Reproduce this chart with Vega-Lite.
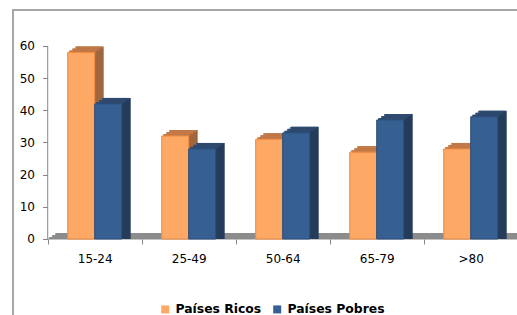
{
  "$schema": "https://vega.github.io/schema/vega-lite/v6.json",
  "width": 506,
  "height": 307,
  "autosize": {"type": "none"},
  "padding": {"left": 13, "top": 10, "right": 0, "bottom": 0},
  "background": "#ffffff",
  "data": {
    "values": [
      {"grupo": "15-24", "serie": "Países Ricos", "valor": 58},
      {"grupo": "15-24", "serie": "Países Pobres", "valor": 42},
      {"grupo": "25-49", "serie": "Países Ricos", "valor": 32},
      {"grupo": "25-49", "serie": "Países Pobres", "valor": 28},
      {"grupo": "50-64", "serie": "Países Ricos", "valor": 31},
      {"grupo": "50-64", "serie": "Países Pobres", "valor": 33},
      {"grupo": "65-79", "serie": "Países Ricos", "valor": 27},
      {"grupo": "65-79", "serie": "Países Pobres", "valor": 37},
      {"grupo": ">80", "serie": "Países Ricos", "valor": 28},
      {"grupo": ">80", "serie": "Países Pobres", "valor": 38}
    ]
  },
  "layer": [
    {
      "data": {"values": [{"k": 1}]},
      "mark": {"type": "rule", "color": "#8c8c8c", "strokeWidth": 2, "xOffset": 1.5, "x2Offset": 1.5, "yOffset": -1},
      "encoding": {
        "x": {"datum": "15-24", "type": "nominal", "bandPosition": 0},
        "x2": {"datum": ">80", "bandPosition": 1},
        "y": {"datum": 0, "type": "quantitative"}
      }
    },
    {
      "data": {"values": [{"k": 1}]},
      "mark": {"type": "rule", "color": "#8c8c8c", "strokeWidth": 2, "xOffset": 4.5, "x2Offset": 4.5, "yOffset": -3},
      "encoding": {
        "x": {"datum": "15-24", "type": "nominal", "bandPosition": 0},
        "x2": {"datum": ">80", "bandPosition": 1},
        "y": {"datum": 0, "type": "quantitative"}
      }
    },
    {
      "data": {"values": [{"k": 1}]},
      "mark": {"type": "rule", "color": "#8c8c8c", "strokeWidth": 2, "xOffset": 7.5, "x2Offset": 7.5, "yOffset": -5},
      "encoding": {
        "x": {"datum": "15-24", "type": "nominal", "bandPosition": 0},
        "x2": {"datum": ">80", "bandPosition": 1},
        "y": {"datum": 0, "type": "quantitative"}
      }
    },
    {
      "data": {"values": [{"k": 1}]},
      "mark": {"type": "rule", "color": "#868686", "strokeWidth": 1},
      "encoding": {
        "x": {"datum": "15-24", "type": "nominal", "bandPosition": 0},
        "x2": {"datum": ">80", "bandPosition": 1},
        "y": {"datum": 0, "type": "quantitative"}
      }
    },
    {
      "data": {"values": [{"k": 1}]},
      "mark": {"type": "rule", "color": "#868686", "strokeWidth": 1},
      "encoding": {
        "x": {"datum": "15-24", "type": "nominal", "bandPosition": 0},
        "y": {"datum": 0, "type": "quantitative"},
        "y2": {"datum": 60}
      }
    },
    {
      "transform": [{"filter": "datum.serie === 'Países Ricos'"}],
      "mark": {"type": "bar", "width": 27, "xOffset": -10.5, "yOffset": -2, "y2Offset": -2, "color": "#a0673f"},
      "encoding": {
        "x": {"field": "grupo", "type": "nominal", "sort": null},
        "y": {"field": "valor", "type": "quantitative", "stack": null}
      }
    },
    {
      "transform": [{"filter": "datum.serie === 'Países Ricos'"}],
      "mark": {"type": "bar", "width": 27, "xOffset": -7.5, "yOffset": -4, "y2Offset": -4, "color": "#a0673f"},
      "encoding": {
        "x": {"field": "grupo", "type": "nominal", "sort": null},
        "y": {"field": "valor", "type": "quantitative", "stack": null}
      }
    },
    {
      "transform": [{"filter": "datum.serie === 'Países Ricos'"}],
      "mark": {"type": "bar", "width": 27, "xOffset": -4.5, "yOffset": -6, "y2Offset": -6, "color": "#a0673f"},
      "encoding": {
        "x": {"field": "grupo", "type": "nominal", "sort": null},
        "y": {"field": "valor", "type": "quantitative", "stack": null}
      }
    },
    {
      "transform": [{"filter": "datum.serie === 'Países Ricos'"}],
      "mark": {"type": "bar", "width": 27, "xOffset": -12, "yOffset": -2, "y2Offset": 0, "color": "#c47a48"},
      "encoding": {
        "x": {"field": "grupo", "type": "nominal", "sort": null},
        "y": {"field": "valor", "type": "quantitative", "stack": null},
        "y2": {"field": "valor"}
      }
    },
    {
      "transform": [{"filter": "datum.serie === 'Países Ricos'"}],
      "mark": {"type": "bar", "width": 27, "xOffset": -9, "yOffset": -4, "y2Offset": -2, "color": "#c47a48"},
      "encoding": {
        "x": {"field": "grupo", "type": "nominal", "sort": null},
        "y": {"field": "valor", "type": "quantitative", "stack": null},
        "y2": {"field": "valor"}
      }
    },
    {
      "transform": [{"filter": "datum.serie === 'Países Ricos'"}],
      "mark": {"type": "bar", "width": 27, "xOffset": -6, "yOffset": -6, "y2Offset": -4, "color": "#c47a48"},
      "encoding": {
        "x": {"field": "grupo", "type": "nominal", "sort": null},
        "y": {"field": "valor", "type": "quantitative", "stack": null},
        "y2": {"field": "valor"}
      }
    },
    {
      "transform": [{"filter": "datum.serie === 'Países Ricos'"}],
      "mark": {"type": "bar", "width": 27, "xOffset": -13.5, "stroke": "#f08a3c", "strokeWidth": 1},
      "encoding": {
        "x": {
          "field": "grupo", "type": "nominal", "sort": null, "title": null,
          "scale": {"domain": ["15-24", "25-49", "50-64", "65-79", ">80"], "paddingInner": 0, "paddingOuter": 0.1915, "align": 0.964},
          "axis": {"orient": "bottom", "offset": -78, "domain": false, "tickBand": "extent", "tickSize": 5, "tickColor": "#868686", "labelPadding": 9, "labelAngle": 0, "labelAlign": "center", "labelBaseline": "top"}
        },
        "y": {
          "field": "valor", "type": "quantitative", "stack": null, "title": null,
          "scale": {"domain": [-24.25, 71.19], "nice": false, "zero": false},
          "axis": {"orient": "left", "offset": -34.5, "domain": false, "values": [0, 10, 20, 30, 40, 50, 60], "tickSize": 5, "tickColor": "#868686", "labelPadding": 8, "grid": false}
        },
        "color": {
          "field": "serie", "type": "nominal",
          "scale": {"domain": ["Países Ricos", "Países Pobres"], "range": ["#fda865", "#376092"]},
          "legend": {"orient": "none", "legendX": 146, "legendY": 293, "direction": "horizontal", "title": null, "symbolType": "square", "symbolSize": 64, "symbolStrokeWidth": 0, "labelFont": "DejaVu Sans", "labelFontWeight": "bold", "labelFontSize": 12.4, "labelColor": "#000000", "labelOffset": 4, "columnPadding": 9, "padding": 0}
        }
      }
    },
    {
      "transform": [{"filter": "datum.serie === 'Países Pobres'"}],
      "mark": {"type": "bar", "width": 27, "xOffset": 16.5, "yOffset": -2, "y2Offset": -2, "color": "#243b5a"},
      "encoding": {
        "x": {"field": "grupo", "type": "nominal", "sort": null},
        "y": {"field": "valor", "type": "quantitative", "stack": null}
      }
    },
    {
      "transform": [{"filter": "datum.serie === 'Países Pobres'"}],
      "mark": {"type": "bar", "width": 27, "xOffset": 19.5, "yOffset": -4, "y2Offset": -4, "color": "#243b5a"},
      "encoding": {
        "x": {"field": "grupo", "type": "nominal", "sort": null},
        "y": {"field": "valor", "type": "quantitative", "stack": null}
      }
    },
    {
      "transform": [{"filter": "datum.serie === 'Países Pobres'"}],
      "mark": {"type": "bar", "width": 27, "xOffset": 22.5, "yOffset": -6, "y2Offset": -6, "color": "#243b5a"},
      "encoding": {
        "x": {"field": "grupo", "type": "nominal", "sort": null},
        "y": {"field": "valor", "type": "quantitative", "stack": null}
      }
    },
    {
      "transform": [{"filter": "datum.serie === 'Países Pobres'"}],
      "mark": {"type": "bar", "width": 27, "xOffset": 15, "yOffset": -2, "y2Offset": 0, "color": "#2e4a70"},
      "encoding": {
        "x": {"field": "grupo", "type": "nominal", "sort": null},
        "y": {"field": "valor", "type": "quantitative", "stack": null},
        "y2": {"field": "valor"}
      }
    },
    {
      "transform": [{"filter": "datum.serie === 'Países Pobres'"}],
      "mark": {"type": "bar", "width": 27, "xOffset": 18, "yOffset": -4, "y2Offset": -2, "color": "#2e4a70"},
      "encoding": {
        "x": {"field": "grupo", "type": "nominal", "sort": null},
        "y": {"field": "valor", "type": "quantitative", "stack": null},
        "y2": {"field": "valor"}
      }
    },
    {
      "transform": [{"filter": "datum.serie === 'Países Pobres'"}],
      "mark": {"type": "bar", "width": 27, "xOffset": 21, "yOffset": -6, "y2Offset": -4, "color": "#2e4a70"},
      "encoding": {
        "x": {"field": "grupo", "type": "nominal", "sort": null},
        "y": {"field": "valor", "type": "quantitative", "stack": null},
        "y2": {"field": "valor"}
      }
    },
    {
      "transform": [{"filter": "datum.serie === 'Países Pobres'"}],
      "mark": {"type": "bar", "width": 27, "xOffset": 13.5, "stroke": "#2b4e7a", "strokeWidth": 1},
      "encoding": {
        "x": {"field": "grupo", "type": "nominal", "sort": null},
        "y": {"field": "valor", "type": "quantitative", "stack": null},
        "color": {"field": "serie", "type": "nominal"}
      }
    }
  ],
  "config": {
    "view": {"stroke": "#a6a6a6", "strokeWidth": 2},
    "axis": {"labelFont": "DejaVu Sans", "labelFontSize": 12, "labelColor": "#000000", "grid": false},
    "bar": {"cornerRadius": 0}
  }
}
